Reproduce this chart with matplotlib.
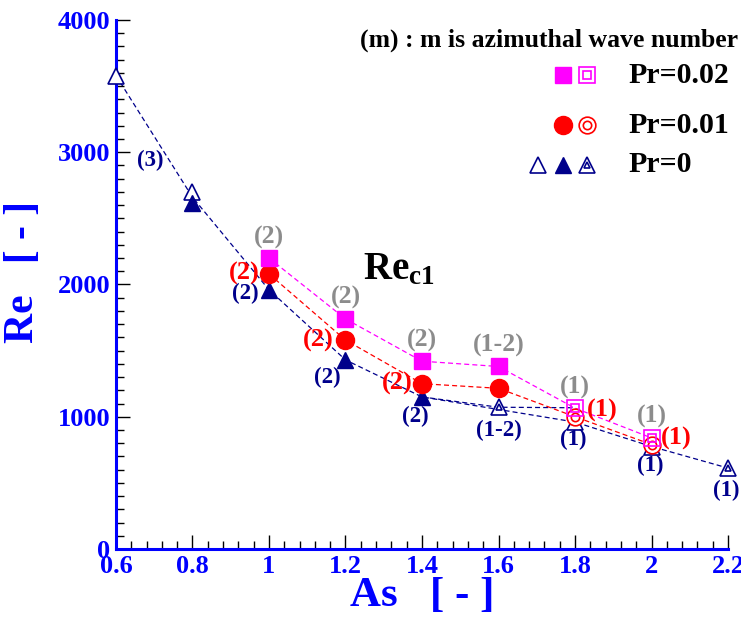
import matplotlib
matplotlib.use('Agg')
import matplotlib.pyplot as plt
from matplotlib.ticker import MultipleLocator

plt.rcParams['font.family'] = ['Liberation Serif', 'DejaVu Serif']
plt.rcParams['font.weight'] = 'bold'
plt.rcParams['mathtext.fontset'] = 'custom'
plt.rcParams['mathtext.rm'] = 'Liberation Serif:bold'
plt.rcParams['mathtext.bf'] = 'Liberation Serif:bold'
plt.rcParams['mathtext.it'] = 'Liberation Serif:bold'

BLUE = '#0000FF'
NAVY = '#00008B'
MAG = '#FF00FF'
RED = '#FF0000'
GRAY = '#8C8C8C'

# Pr=0.02 (squares)
as_02 = [1.0, 1.2, 1.4, 1.6, 1.8, 2.0]
re_02 = [2200, 1740, 1420, 1380, 1065, 840]
m_02 = ['(2)', '(2)', '(2)', '(1-2)', '(1)', '(1)']

# Pr=0.01 (circles)
as_01 = [1.0, 1.2, 1.4, 1.6, 1.8, 2.0]
re_01 = [2080, 1580, 1250, 1215, 1000, 790]
m_01 = ['(2)', '(2)', '(2)', '', '(1)', '(1)']

# Pr=0 (triangles)
as_0 = [0.6, 0.8, 1.0, 1.2, 1.4, 1.8, 2.0, 2.2]
re_0 = [3580, 2660, 1960, 1430, 1150, 960, 775, 612]
as_0b = [1.4, 1.6, 1.8]
re_0b = [1150, 1072, 1068]
open_as = [0.6, 0.8]
open_re = [3580, 2700]
fill_as = [0.8, 1.0, 1.2, 1.4]
fill_re = [2620, 1960, 1430, 1150]
dbl_as = [1.6, 1.8, 2.0, 2.2]
dbl_re = [1072, 960, 775, 612]
m_0 = ['(2)', '(2)', '(2)', '(1-2)', '(1)', '(1)', '(1)']
m_0_as = [1.0, 1.2, 1.4, 1.6, 1.8, 2.0, 2.2]
m_0_re = [1960, 1430, 1150, 1072, 960, 775, 612]

fig = plt.figure(figsize=(7.41, 6.17), dpi=100)
ax = fig.add_axes([0.1565, 0.1102, 0.826, 0.8574])

dash = (0, (4, 2.5))
ax.plot(as_0, re_0, color=NAVY, lw=0.9, ls=dash, zorder=1)
ax.plot(as_0b, re_0b, color=NAVY, lw=0.9, ls=dash, zorder=1)
ax.plot(as_01, re_01, color=RED, lw=0.9, ls=dash, zorder=1)
ax.plot(as_02, re_02, color=MAG, lw=0.9, ls=dash, zorder=1)

# Pr=0 markers
ax.plot(open_as, open_re, ls='none', marker='^', ms=12, mfc='white', mec=NAVY, mew=1.2, zorder=3, clip_on=False)
ax.plot(fill_as, fill_re, ls='none', marker='^', ms=11, mfc=NAVY, mec=NAVY, zorder=3, clip_on=False)
ax.plot(dbl_as, dbl_re, ls='none', marker='^', ms=11, mfc='white', mec=NAVY, mew=1.2, zorder=3, clip_on=False)
ax.plot(dbl_as, dbl_re, ls='none', marker='^', ms=5, mfc='none', mec=NAVY, mew=1.2, zorder=3, clip_on=False)

# Pr=0.01 markers
ax.plot(as_01[:4], re_01[:4], ls='none', marker='o', ms=13, mfc=RED, mec=RED, zorder=4)
ax.plot(as_01[4:], re_01[4:], ls='none', marker='o', ms=12, mfc='white', mec=RED, mew=1.2, zorder=4)
ax.plot(as_01[4:], re_01[4:], ls='none', marker='o', ms=6, mfc='none', mec=RED, mew=1.2, zorder=4)

# Pr=0.02 markers
ax.plot(as_02[:4], re_02[:4], ls='none', marker='s', ms=12, mfc=MAG, mec=MAG, zorder=5)
ax.plot(as_02[4:], re_02[4:], ls='none', marker='s', ms=12, mfc='none', mec=MAG, mew=1.2, zorder=5)
ax.plot(as_02[4:], re_02[4:], ls='none', marker='s', ms=6, mfc='none', mec=MAG, mew=1.2, zorder=5)

# mode labels
for x, y, t in zip(as_02, re_02, m_02):
    ax.annotate(t, (x, y), xytext=(0, 21), textcoords='offset pixels',
                ha='center', va='center', color=GRAY, fontsize=18.5, fontweight='bold')
red_off = [(-25, 0), (-27, 0), (-25, 0), None, (27, 6), (25, 6)]
for x, y, t, off in zip(as_01, re_01, m_01, red_off):
    if t:
        ax.annotate(t, (x, y), xytext=off, textcoords='offset pixels',
                    ha='center', va='center', color=RED, fontsize=19, fontweight='bold')
navy_off = [(-24, -4), (-18, -18), (-7, -20), (0, -23), (-2, -17), (-1, -19), (-2, -22)]
for x, y, t, off in zip(m_0_as, m_0_re, m_0, navy_off):
    ax.annotate(t, (x, y), xytext=off, textcoords='offset pixels',
                ha='center', va='center', color=NAVY, fontsize=16.5, fontweight='bold')
ax.text(0.689, 2940, '(3)', ha='center', va='center', color=NAVY, fontsize=16.5, fontweight='bold')

ax.text(0.462, 0.527, r'$\mathrm{Re_{c1}}$', transform=ax.transAxes, ha='center', va='center',
        fontsize=28, color='black')

ax.text(1.016, 0.962, '(m) : m is azimuthal wave number', transform=ax.transAxes,
        ha='right', va='center', fontsize=18.5, fontweight='bold', color='black')

# legend drawn by hand
rows = [0.896, 0.8015, 0.726]
ax.plot([0.730], [rows[0]], transform=ax.transAxes, marker='s', ms=12, mfc=MAG, mec=MAG, clip_on=False)
ax.plot([0.770], [rows[0]], transform=ax.transAxes, marker='s', ms=12, mfc='none', mec=MAG, mew=1.2, clip_on=False)
ax.plot([0.770], [rows[0]], transform=ax.transAxes, marker='s', ms=6, mfc='none', mec=MAG, mew=1.2, clip_on=False)
ax.plot([0.730], [rows[1]], transform=ax.transAxes, marker='o', ms=13, mfc=RED, mec=RED, clip_on=False)
ax.plot([0.770], [rows[1]], transform=ax.transAxes, marker='o', ms=12, mfc='none', mec=RED, mew=1.2, clip_on=False)
ax.plot([0.770], [rows[1]], transform=ax.transAxes, marker='o', ms=6, mfc='none', mec=RED, mew=1.2, clip_on=False)
ax.plot([0.690], [rows[2]], transform=ax.transAxes, marker='^', ms=12, mfc='none', mec=NAVY, mew=1.2, clip_on=False)
ax.plot([0.730], [rows[2]], transform=ax.transAxes, marker='^', ms=12, mfc=NAVY, mec=NAVY, clip_on=False)
ax.plot([0.770], [rows[2]], transform=ax.transAxes, marker='^', ms=12, mfc='none', mec=NAVY, mew=1.2, clip_on=False)
ax.plot([0.770], [rows[2]], transform=ax.transAxes, marker='^', ms=5, mfc='none', mec=NAVY, mew=1.2, clip_on=False)
for r, lab in zip(rows, ['Pr=0.02', 'Pr=0.01', 'Pr=0']):
    ax.text(0.837, r, lab, transform=ax.transAxes, ha='left', va='center',
            fontsize=21.5, fontweight='bold', color='black')

ax.set_xlim(0.6, 2.2)
ax.set_ylim(0, 4000)
ax.xaxis.set_major_locator(MultipleLocator(0.2))
ax.xaxis.set_minor_locator(MultipleLocator(0.04))
ax.yaxis.set_major_locator(MultipleLocator(1000))
ax.yaxis.set_minor_locator(MultipleLocator(100))
ax.set_xticks([0.6, 0.8, 1.0, 1.2, 1.4, 1.6, 1.8, 2.0, 2.2])
ax.set_xticklabels(['0.6', '0.8', '1', '1.2', '1.4', '1.6', '1.8', '2', '2.2'])
ax.tick_params(which='both', direction='in', color='black', labelcolor=BLUE, labelsize=19, width=1)
ax.tick_params(which='major', length=10, pad=4)
ax.tick_params(which='minor', length=6)
for lbl in ax.get_xticklabels() + ax.get_yticklabels():
    lbl.set_fontweight('bold')

for s in ['top', 'right']:
    ax.spines[s].set_visible(False)
for s in ['left', 'bottom']:
    ax.spines[s].set_color(BLUE)
    ax.spines[s].set_linewidth(2.2)

ax.set_xlabel('As   [ - ]', fontsize=31, fontweight='bold', color=BLUE)
ax.set_ylabel('Re   [ - ]', fontsize=30, fontweight='bold', color=BLUE)
ax.xaxis.set_label_coords(0.5, -0.052)
ax.yaxis.set_label_coords(-0.121, 0.524)

fig.savefig('out.png', dpi=100)
